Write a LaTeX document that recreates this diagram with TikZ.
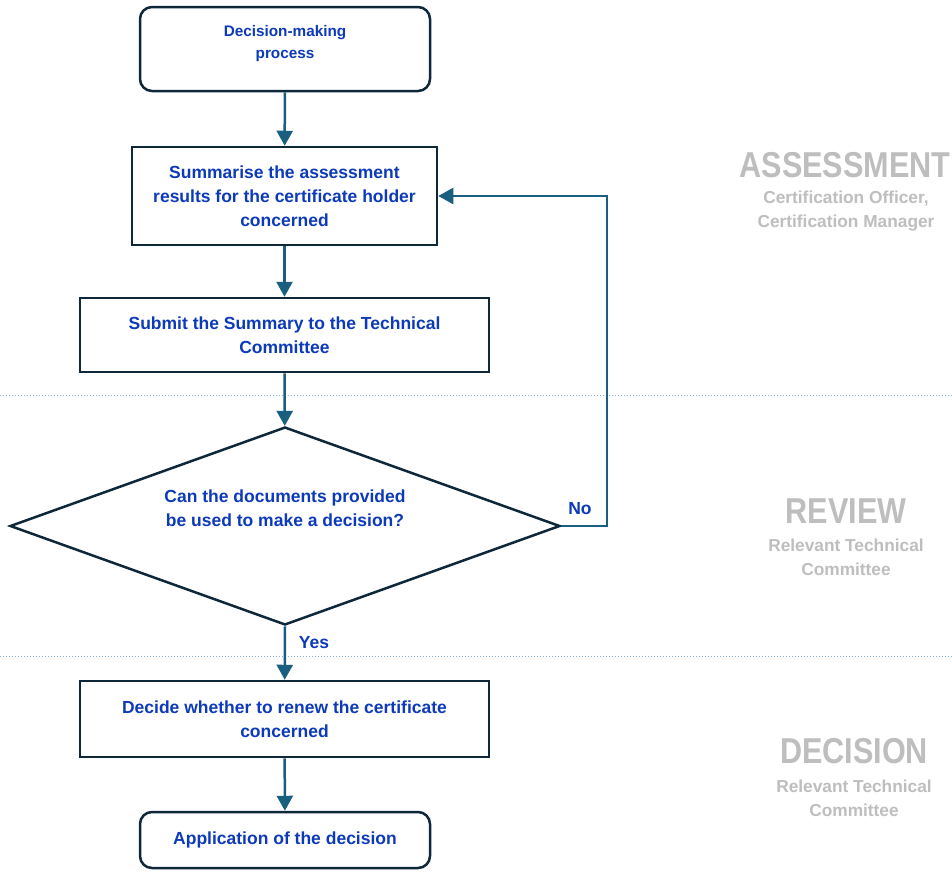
\documentclass[tikz,border=0pt]{standalone}
\usepackage{fontspec}
\setmainfont{Liberation Sans}
\newfontfamily\headfont[FakeStretch=0.85]{Liberation Sans}
\usetikzlibrary{arrows.meta,shapes.geometric}
\definecolor{txtblue}{RGB}{12,58,185}
\definecolor{conn}{RGB}{26,94,128}
\definecolor{border}{RGB}{14,40,58}
\definecolor{greytxt}{RGB}{190,190,190}
\definecolor{dotline}{RGB}{130,175,210}
\begin{document}
\begin{tikzpicture}[x=1pt,y=-1pt,
  boxtxt/.style={font=\bfseries\fontsize{17.5}{24}\selectfont, text=txtblue, align=center},
  box/.style={boxtxt, draw=border, line width=2.5pt, fill=white, inner sep=0pt},
  rbox/.style={box, rounded corners=12pt},
  decbox/.style={boxtxt, diamond, draw=border, line width=2.5pt, fill=white, inner sep=0pt, minimum width=550pt, minimum height=198pt},
  arr/.style={draw=conn, line width=2.5pt, -{Triangle[length=15pt,width=16pt]}},
  sep/.style={draw=dotline, line width=1pt, dotted},
  head/.style={font=\headfont\bfseries\fontsize{36}{36}\selectfont, text=greytxt},
  subtxt/.style={font=\bfseries\fontsize{17.3}{24}\selectfont, text=greytxt, align=center},
  lbl/.style={font=\bfseries\fontsize{17.5}{20}\selectfont, text=txtblue}
]
\useasboundingbox (0,0) rectangle (952,871);
\fill[white] (0,0) rectangle (952,871);

% separators
\coordinate (s1l) at (0,395);
\coordinate (s1r) at (952,395);
\coordinate (s2l) at (0,656);
\coordinate (s2r) at (952,656);
\draw[sep] (s1l) -- (s1r);
\draw[sep] (s2l) -- (s2r);

% nodes
\node[rbox, minimum width=290pt, minimum height=84pt] (start) at (285,49) {};
\node[boxtxt, font=\bfseries\fontsize{15.3}{22}\selectfont] (starttxt) at (285,44) {Decision-making\\process};
\node[box, minimum width=305pt, minimum height=98pt] (sum) at (284.5,196) {Summarise the assessment\\results for the certificate holder\\concerned};
\node[box, minimum width=409pt, minimum height=74pt] (sub) at (284.5,335) {Submit the Summary to the Technical\\Committee};
\node[decbox] (dec) at (285,526) {};
\node[boxtxt] (dectxt) at (285,508) {Can the documents provided\\be used to make a decision?};
\node[box, minimum width=409pt, minimum height=76pt] (renew) at (284.5,719) {Decide whether to renew the certificate\\concerned};
\node[rbox, minimum width=290pt, minimum height=56pt] (app) at (285,840) {Application of the decision};

% connectors
\draw[arr] (start) -- (sum);
\draw[arr] (sum) -- (sub);
\draw[arr] (sub) -- (dec);
\draw[arr] (dec.south) -- (renew);
\draw[arr] (renew) -- (app);
\coordinate (nocorner) at (607,526);
\draw[arr] (dec.east) -- (nocorner) |- (sum.east);
\node[lbl] (no) at (580,509) {No};
\node[lbl] (yes) at (314,643) {Yes};

% phase labels
\node[head] (h1) at (845,165) {ASSESSMENT};
\node[subtxt] (t1) at (846,211) {Certification Officer,\\Certification Manager};
\node[head] (h2) at (846,511) {REVIEW};
\node[subtxt] (t2) at (846,557) {Relevant Technical\\Committee};
\node[head] (h3) at (854,751) {DECISION};
\node[subtxt] (t3) at (854,798) {Relevant Technical\\Committee};
\end{tikzpicture}
\end{document}
